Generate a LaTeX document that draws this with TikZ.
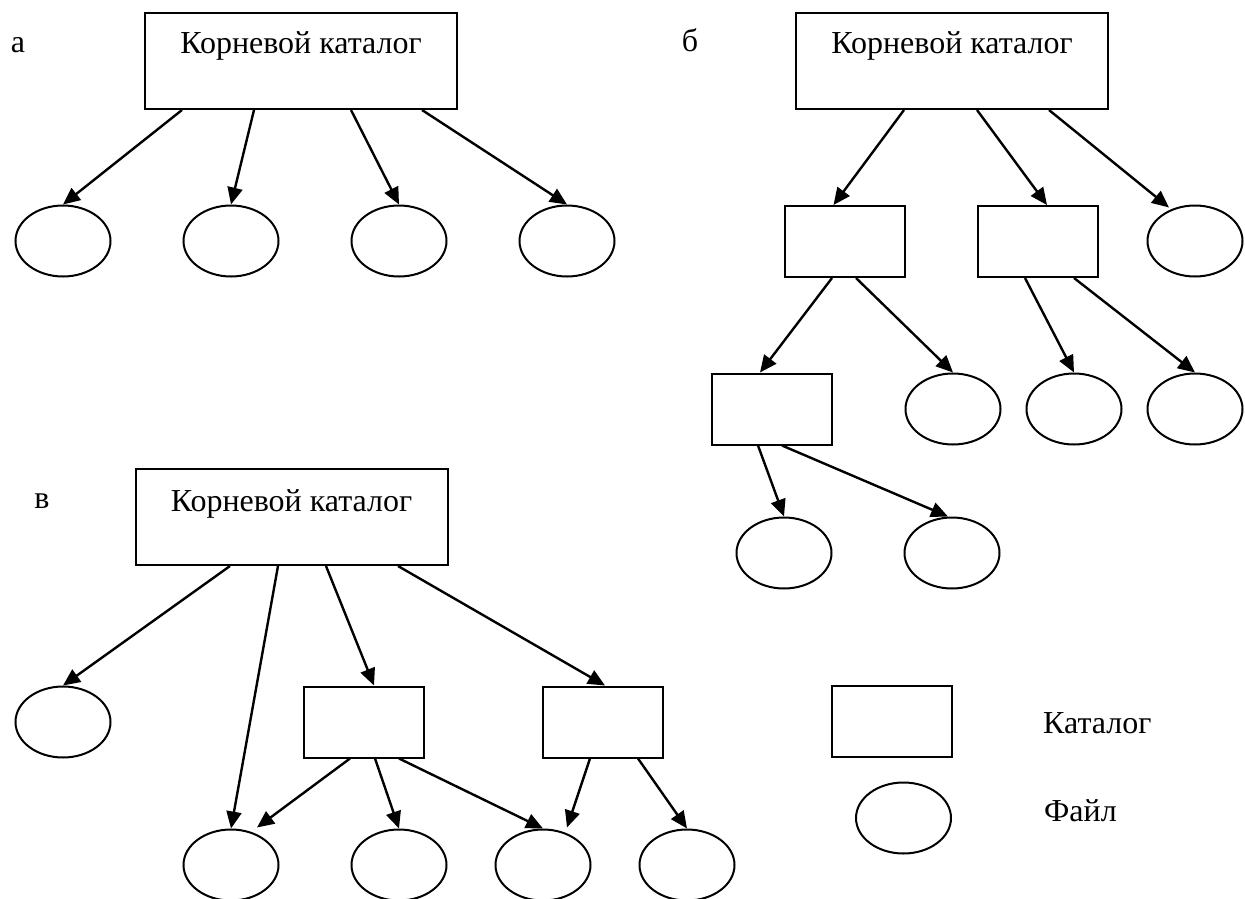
\documentclass[tikz,border=0pt]{standalone}
\usepackage{fontspec}
\setmainfont{Liberation Serif}
\usetikzlibrary{arrows.meta,calc,shapes.geometric}
\begin{document}
\begin{tikzpicture}[x=1pt,y=-1pt,
  dirbox/.style={draw,line width=2pt,rectangle,inner sep=0pt,minimum width=120pt,minimum height=71pt},
  rootbox/.style={draw,line width=2pt,rectangle,inner sep=0pt,minimum width=312pt,minimum height=96pt},
  filebox/.style={draw,line width=2pt,ellipse,inner sep=0pt,minimum width=95pt,minimum height=71pt},
  txt/.style={font=\fontsize{32}{38}\selectfont,inner sep=0pt},
  arr/.style={-{Triangle[length=17pt,width=15pt]},line width=2.4pt}]
\useasboundingbox (0,0) rectangle (1245,899);

% ---------- panel a ----------
\node[txt,anchor=base] (la) at (18,53) {а};
\node[rootbox] (ra) at (301,61) {};
\node[txt,anchor=base] (ta) at (301,54) {Корневой каталог};
\node[filebox] (ea1) at (63,241) {};
\node[filebox] (ea2) at (231,241) {};
\node[filebox] (ea3) at (399,241) {};
\node[filebox] (ea4) at (567,241) {};
\draw[arr] ($(ra.south west)+(38,0)$) -- (ea1.north);
\draw[arr] ($(ra.south west)+(110,0)$) -- (ea2.north);
\draw[arr] ($(ra.south west)+(207,0)$) -- (ea3.north);
\draw[arr] ($(ra.south west)+(278,0)$) -- (ea4.north);

% ---------- panel b ----------
\node[txt,anchor=base] (lb) at (690,52) {б};
\node[rootbox] (rb) at (952,61) {};
\node[txt,anchor=base] (tb) at (952,54) {Корневой каталог};
\node[dirbox] (rb1) at (844.5,241.5) {};
\node[dirbox] (rb2) at (1038,241.5) {};
\node[filebox] (eb1) at (1195,241) {};
\node[dirbox] (rb3) at (771.5,409) {};
\node[filebox] (eb2) at (953,409) {};
\node[filebox] (eb3) at (1074,409) {};
\node[filebox] (eb4) at (1195,409) {};
\node[filebox] (eb5) at (784,553) {};
\node[filebox] (eb6) at (952,553) {};
\draw[arr] ($(rb.south west)+(109,0)$) -- ($(rb1.north west)+(50,0)$);
\draw[arr] ($(rb.south west)+(182,0)$) -- ($(rb2.north west)+(70,0)$);
\draw[arr] ($(rb.south west)+(254,0)$) -- ($(eb1.north)+(-26,3)$);
\draw[arr] ($(rb1.south west)+(48.5,0)$) -- ($(rb3.north west)+(49.5,0)$);
\draw[arr] ($(rb1.south west)+(72.5,0)$) -- (eb2.north);
\draw[arr] ($(rb2.south west)+(48,0)$) -- (eb3.north);
\draw[arr] ($(rb2.south west)+(97,0)$) -- (eb4.north);
\draw[arr] ($(rb3.south west)+(47.5,0)$) -- (eb5.north);
\draw[arr] ($(rb3.south west)+(71.5,0)$) -- ($(eb6.north)+(-4,0)$);

% ---------- panel v ----------
\node[txt,anchor=base] (lc) at (42,508) {в};
\node[rootbox] (rc) at (291.5,517) {};
\node[txt,anchor=base] (tc) at (291.5,511) {Корневой каталог};
\node[filebox] (ec1) at (63,722) {};
\node[dirbox] (rc1) at (363.5,722) {};
\node[dirbox] (rc2) at (603,722) {};
\node[filebox] (ec2) at (231,865) {};
\node[filebox] (ec3) at (399,865) {};
\node[filebox] (ec4) at (543,865) {};
\node[filebox] (ec5) at (687,865) {};
\draw[arr] ($(rc.south west)+(95.5,0)$) -- (ec1.north);
\draw[arr] ($(rc.south west)+(143.5,0)$) -- (ec2.north);
\draw[arr] ($(rc.south west)+(191.5,0)$) -- ($(rc1.north west)+(71.5,0)$);
\draw[arr] ($(rc.south west)+(263.5,0)$) -- ($(rc2.north west)+(63,0)$);
\draw[arr] ($(rc1.south west)+(47.5,0)$) -- ($(ec2.north)+(26,-1)$);
\draw[arr] ($(rc1.south west)+(72.5,0)$) -- (ec3.north);
\draw[arr] ($(rc1.south west)+(96.5,0)$) -- (ec4.north);
\draw[arr] ($(rc2.south west)+(48,0)$) -- ($(ec4.north)+(24,-1)$);
\draw[arr] ($(rc2.south west)+(96,0)$) -- (ec5.north);

% ---------- legend ----------
\node[dirbox] (lgr) at (891.5,721.5) {};
\node[txt,anchor=base west] (lgrt) at (1043,733) {Каталог};
\node[filebox] (lge) at (903.5,818) {};
\node[txt,anchor=base west] (lget) at (1044,821) {Файл};
\end{tikzpicture}
\end{document}
